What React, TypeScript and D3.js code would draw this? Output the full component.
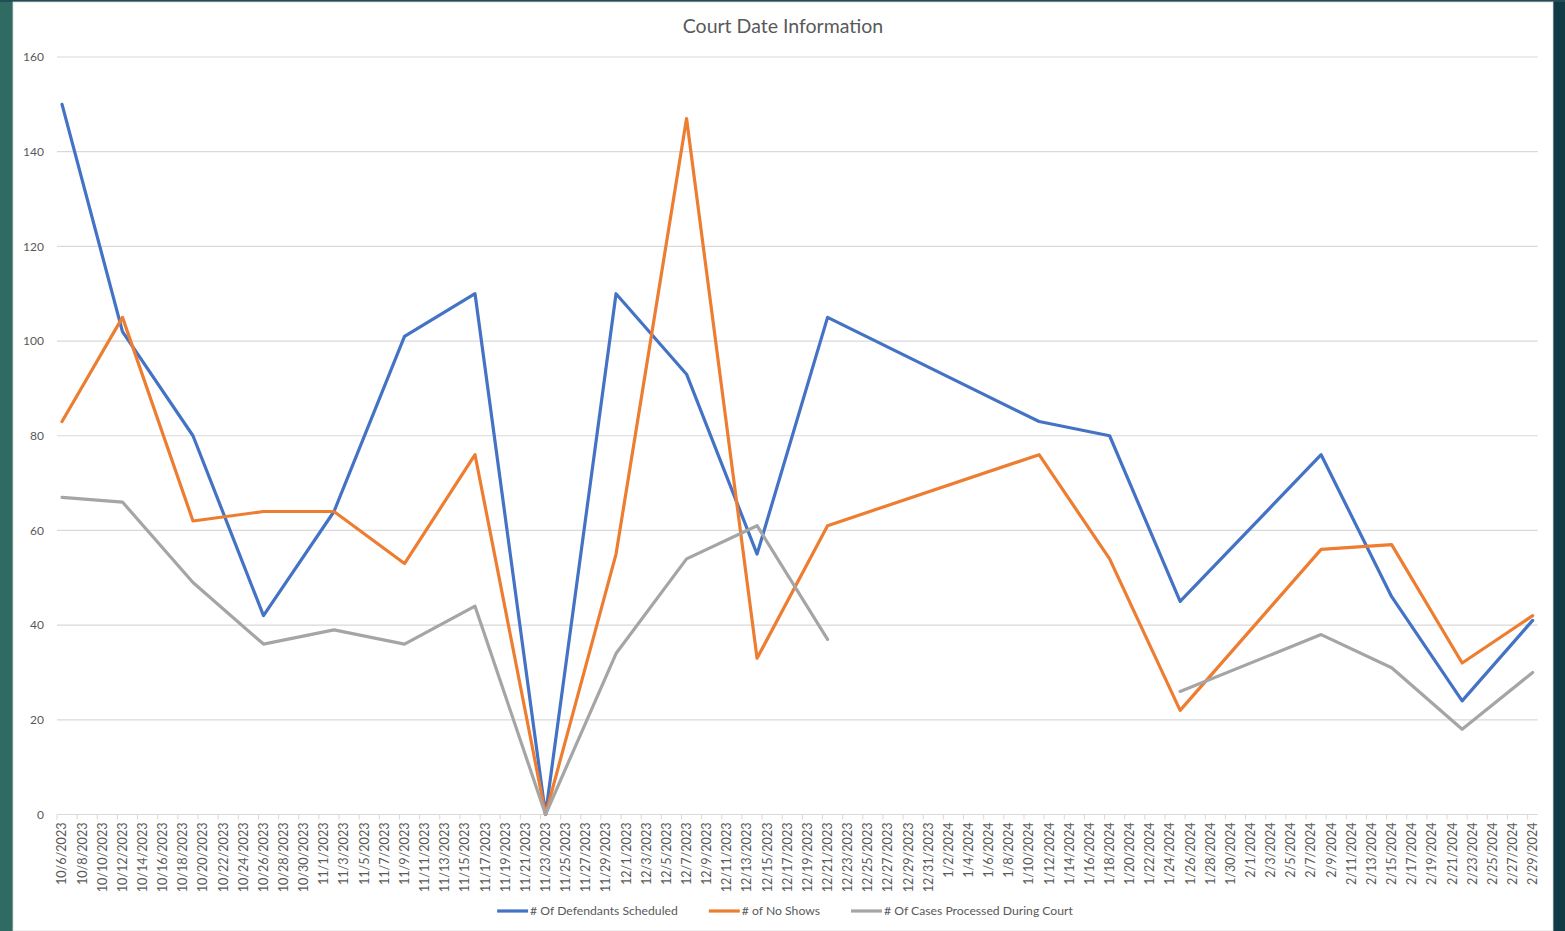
import * as d3 from "d3";
import { useEffect, useRef } from "react";

// court dates that have numbers
const dates = [
  "10/6/2023", "10/12/2023", "10/19/2023", "10/26/2023", "11/2/2023", "11/9/2023",
  "11/16/2023", "11/23/2023", "11/30/2023", "12/7/2023", "12/14/2023", "12/21/2023",
  "1/11/2024", "1/18/2024", "1/25/2024", "2/8/2024", "2/15/2024", "2/22/2024", "2/29/2024",
];
const defendants = [150, 102, 80, 42, 64, 101, 110, 0, 110, 93, 55, 105, 83, 80, 45, 76, 46, 24, 41];
const noShows = [83, 105, 62, 64, 64, 53, 76, 0, 55, 147, 33, 61, 76, 54, 22, 56, 57, 32, 42];
const casesProcessed = [67, 66, 49, 36, 39, 36, 44, 0, 34, 54, 61, 37, null, null, 26, 38, 31, 18, 30];

const seriesNames = ["# Of Defendants Scheduled", "# of No Shows", "# Of Cases Processed During Court"];
const seriesColors = ["#4472C4", "#ED7D31", "#A5A5A5"];
const yTicks = [0, 20, 40, 60, 80, 100, 120, 140, 160];
const axisStart = "10/6/2023";
const axisEnd = "2/29/2024";

const W = 1565;
const H = 931;
const FONT = "Lato, 'Open Sans', sans-serif";
const TEXT = "#595959";

function App() {
  const svgRef = useRef<SVGSVGElement>(null);

  useEffect(() => {
    document.body.style.margin = "0";
    const svg = d3.select(svgRef.current);
    svg.selectAll("*").remove();

    const parse = d3.utcParse("%m/%d/%Y");
    const start = parse(axisStart)!;
    const end = parse(axisEnd)!;
    const halfDay = 12 * 3600 * 1000;

    const left = 57, right = 1537.7, top = 57, bottom = 814.5;

    const x = d3.scaleUtc()
      .domain([new Date(+start - halfDay), new Date(+end + halfDay)])
      .range([left, right]);
    const y = d3.scaleLinear().domain([0, 160]).range([bottom, top]);

    // frame / background
    svg.append("rect").attr("width", W).attr("height", H).attr("fill", "#2f6a63");
    svg.append("rect").attr("x", 1553).attr("width", 12).attr("height", H).attr("fill", "#0f3b47");
    svg.append("rect").attr("width", W).attr("height", 2).attr("fill", "#1f4e55");
    svg.append("rect").attr("x", 13).attr("y", 2).attr("width", 1540).attr("height", H - 2)
      .attr("fill", "#ffffff").attr("stroke", "#d9d9d9").attr("stroke-width", 0.8);

    svg.append("text")
      .attr("x", 783).attr("y", 33)
      .attr("text-anchor", "middle")
      .style("font-family", FONT).style("font-size", "19.5px")
      .attr("fill", TEXT)
      .text("Court Date Information");

    // gridlines + y labels
    const grid = svg.append("g");
    grid.selectAll("line").data(yTicks).join("line")
      .attr("x1", left).attr("x2", right)
      .attr("y1", (d) => y(d)).attr("y2", (d) => y(d))
      .attr("stroke", "#d9d9d9").attr("stroke-width", 1.2);
    grid.selectAll("text").data(yTicks).join("text")
      .attr("x", 44).attr("y", (d) => y(d))
      .attr("dy", "0.35em")
      .attr("text-anchor", "end")
      .style("font-family", FONT).style("font-size", "12px")
      .attr("fill", TEXT)
      .text((d) => d);

    // x axis: every 2nd day
    const allDays = d3.utcDay.range(start, new Date(+end + 1));
    const labelDays = allDays.filter((d, i) => i % 2 === 0);
    const fmt = d3.utcFormat("%-m/%-d/%Y");
    const dayW = x(allDays[1]) - x(allDays[0]);
    const xg = svg.append("g");
    xg.selectAll("line.tick").data(labelDays).join("line")
      .attr("class", "tick")
      .attr("x1", (d) => x(d) - dayW / 2)
      .attr("x2", (d) => x(d) - dayW / 2)
      .attr("y1", bottom).attr("y2", bottom + 5)
      .attr("stroke", "#d9d9d9");
    xg.selectAll("text").data(labelDays).join("text")
      .attr("transform", (d) => `translate(${x(d)},${bottom + 8}) rotate(-90)`)
      .attr("dy", "0.35em")
      .attr("text-anchor", "end")
      .style("font-family", FONT).style("font-size", "12.6px")
      .attr("fill", TEXT)
      .text((d) => fmt(d));

    // lines
    const pts = dates.map((d) => parse(d)!);
    const allSeries = [defendants, noShows, casesProcessed];
    const line = d3.line<[Date, number | null]>()
      .defined((d) => d[1] !== null)
      .x((d) => x(d[0]))
      .y((d) => y(d[1] as number));

    svg.append("g").selectAll("path").data(allSeries).join("path")
      .attr("d", (s) => line(pts.map((p, i) => [p, s[i]])))
      .attr("fill", "none")
      .attr("stroke", (s, i) => seriesColors[i])
      .attr("stroke-width", 3.2)
      .attr("stroke-linejoin", "round")
      .attr("stroke-linecap", "round");

    // legend
    const lg = svg.append("g");
    const items = seriesNames.map((name, i) => {
      const g = lg.append("g");
      g.append("line").attr("x1", 0).attr("x2", 31).attr("y1", 0).attr("y2", 0)
        .attr("stroke", seriesColors[i]).attr("stroke-width", 3.2);
      const t = g.append("text").attr("x", 33).attr("dy", "0.35em")
        .style("font-family", FONT).style("font-size", "12.2px")
        .attr("fill", TEXT).text(name);
      const w = 33 + (t.node() as SVGTextElement).getComputedTextLength();
      return { g, w };
    });
    const gap = 31;
    const total = d3.sum(items, (d) => d.w) + gap * (items.length - 1);
    let cx = 785 - total / 2;
    items.forEach((it) => {
      it.g.attr("transform", `translate(${cx},911)`);
      cx += it.w + gap;
    });
  }, []);

  return (
    <svg ref={svgRef} width={W} height={H} style={{ display: "block" }}></svg>
  );
}

export default App;
